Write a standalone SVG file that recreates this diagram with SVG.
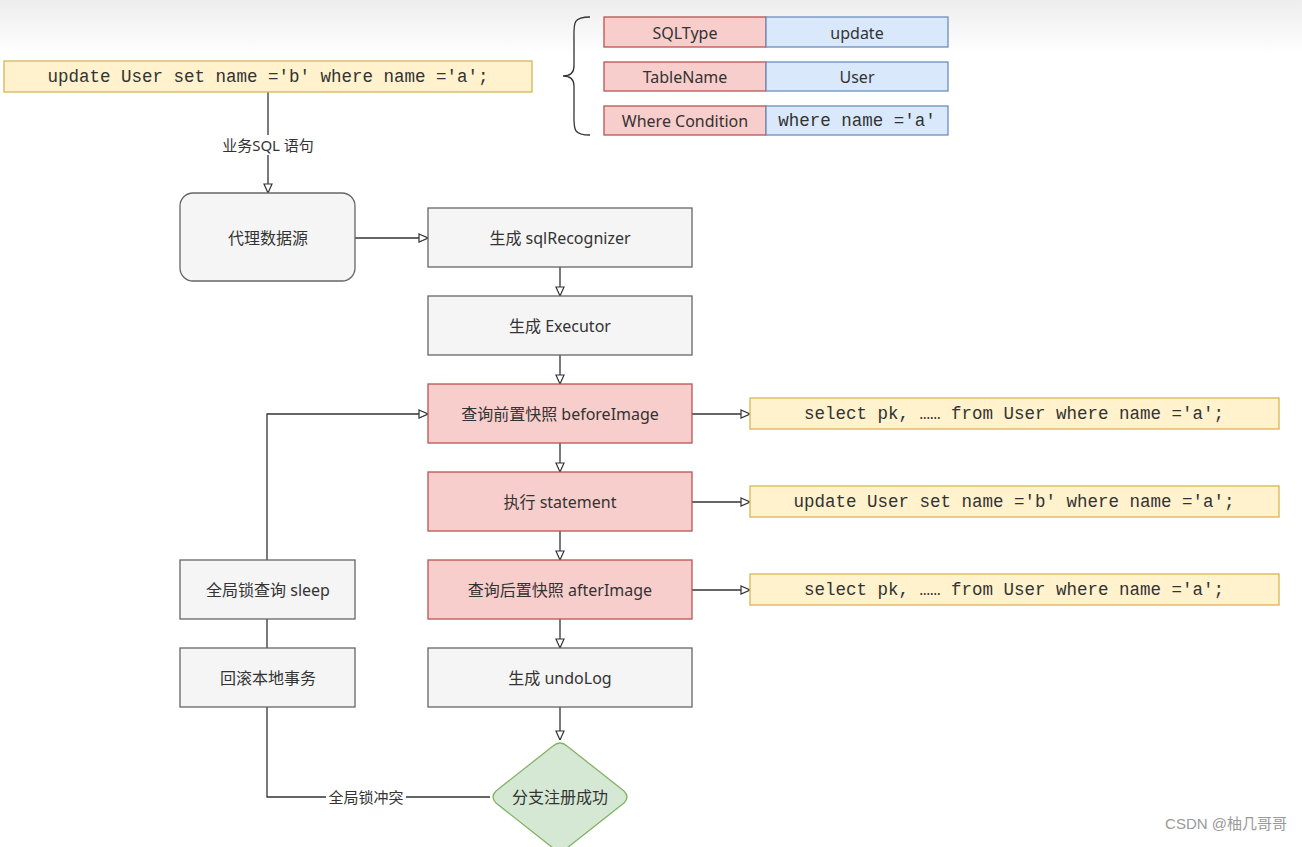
<svg xmlns="http://www.w3.org/2000/svg" width="1302" height="847" viewBox="0 0 1302 847">
<style>
.t{font-family:"Noto Sans","DejaVu Sans","Noto Sans CJK SC",sans-serif;font-size:16px;fill:#333;text-anchor:middle;dominant-baseline:central}
.m{font-family:"Liberation Mono","DejaVu Sans Mono","Noto Sans CJK SC",monospace;font-size:17.5px;fill:#333;text-anchor:middle;dominant-baseline:central}
.gray{fill:#f5f5f5;stroke:#666;stroke-width:1.3}
.red{fill:#f8cecc;stroke:#b85450;stroke-width:1.3}
.blue{fill:#dae8fc;stroke:#6c8ebf;stroke-width:1.3}
.yel{fill:#fff2cc;stroke:#d6b656;stroke-width:1.3}
.grn{fill:#d5e8d4;stroke:#82b366;stroke-width:1.3}
.c{fill:none;stroke:#333;stroke-width:1.3}
.lbl{font-family:"Noto Sans","DejaVu Sans","Noto Sans CJK SC",sans-serif;font-size:15px;fill:#333;text-anchor:middle;dominant-baseline:central}
</style>
<defs>
<linearGradient id="bg" x1="0" y1="0" x2="0" y2="1">
<stop offset="0" stop-color="#ededed"/>
<stop offset="1" stop-color="#ffffff"/>
</linearGradient>
<marker id="a" viewBox="0 0 10 10" refX="10" refY="5" markerWidth="10" markerHeight="10" markerUnits="userSpaceOnUse" orient="auto">
<path d="M1,1 L10,5 L1,9 Z" fill="#fff" stroke="#333" stroke-width="1.2"/>
</marker>
</defs>
<rect x="0" y="0" width="1302" height="847" fill="#fff"/>
<rect x="0" y="0" width="1302" height="55" fill="url(#bg)"/>

<g id="connectors">
<path class="c" d="M268,92 V193" marker-end="url(#a)"/>
<path class="c" d="M355,238 H428" marker-end="url(#a)"/>
<path class="c" d="M560,267 V296" marker-end="url(#a)"/>
<path class="c" d="M560,355 V384" marker-end="url(#a)"/>
<path class="c" d="M560,443 V472" marker-end="url(#a)"/>
<path class="c" d="M560,531 V560" marker-end="url(#a)"/>
<path class="c" d="M560,619 V648" marker-end="url(#a)"/>
<path class="c" d="M560,707 V740" marker-end="url(#a)"/>
<path class="c" d="M692,414 H750" marker-end="url(#a)"/>
<path class="c" d="M692,502 H750" marker-end="url(#a)"/>
<path class="c" d="M692,590 H750" marker-end="url(#a)"/>
<path class="c" d="M490,797 H267 V707"/>
<path class="c" d="M267,648 V619"/>
<path class="c" d="M267,560 V414 H428" marker-end="url(#a)"/>
<rect x="214" y="135" width="108" height="20" fill="#fff"/>
<text class="lbl" x="268" y="145">业务SQL 语句</text>
<rect x="326" y="787" width="80" height="20" fill="#fff"/>
<text class="lbl" x="366" y="797">全局锁冲突</text>
</g>

<g id="sql-top">
<rect class="yel" x="4" y="61" width="528" height="31"/>
<text class="m" x="268" y="77">update User set name ='b' where name ='a';</text>
</g>

<g id="brace">
<path class="c" stroke="#555" d="M590,17 C572,17 574,24 574,40 L574,66 C574,73 570,76 563,76 C570,76 574,79 574,86 L574,112 C574,128 572,135 590,135"/>
</g>

<g id="row-sqltype">
<rect class="red" x="604" y="17" width="162" height="30"/>
<rect class="blue" x="766" y="17" width="182" height="30"/>
<text class="t" x="685" y="33">SQLType</text>
<text class="t" x="857" y="33">update</text>
</g>
<g id="row-tablename">
<rect class="red" x="604" y="62" width="162" height="29"/>
<rect class="blue" x="766" y="62" width="182" height="29"/>
<text class="t" x="685" y="77">TableName</text>
<text class="t" x="857" y="77">User</text>
</g>
<g id="row-where">
<rect class="red" x="604" y="106" width="162" height="29"/>
<rect class="blue" x="766" y="106" width="182" height="29"/>
<text class="t" x="685" y="121">Where Condition</text>
<text class="m" x="857" y="121">where name ='a'</text>
</g>

<g id="proxy">
<rect class="gray" x="180" y="193" width="175" height="88" rx="13"/>
<text class="t" x="268" y="238">代理数据源</text>
</g>
<g id="recognizer">
<rect class="gray" x="428" y="208" width="264" height="59"/>
<text class="t" x="560" y="238">生成 sqlRecognizer</text>
</g>
<g id="executor">
<rect class="gray" x="428" y="296" width="264" height="59"/>
<text class="t" x="560" y="326">生成 Executor</text>
</g>
<g id="before">
<rect class="red" x="428" y="384" width="264" height="59"/>
<text class="t" x="560" y="414">查询前置快照 beforeImage</text>
</g>
<g id="statement">
<rect class="red" x="428" y="472" width="264" height="59"/>
<text class="t" x="560" y="502">执行 statement</text>
</g>
<g id="after">
<rect class="red" x="428" y="560" width="264" height="59"/>
<text class="t" x="560" y="590">查询后置快照 afterImage</text>
</g>
<g id="undolog">
<rect class="gray" x="428" y="648" width="264" height="59"/>
<text class="t" x="560" y="678">生成 undoLog</text>
</g>
<g id="branch">
<path class="grn" d="M553,746 Q560,740 567,746 L624,791 Q630,797 624,803 L567,848 Q560,854 553,848 L496,803 Q490,797 496,791 Z"/>
<text class="t" x="560" y="797">分支注册成功</text>
</g>

<g id="sql-before">
<rect class="yel" x="750" y="398" width="529" height="31"/>
<text class="m" x="1014" y="414">select pk, …… from User where name ='a';</text>
</g>
<g id="sql-exec">
<rect class="yel" x="750" y="486" width="529" height="31"/>
<text class="m" x="1014" y="502">update User set name ='b' where name ='a';</text>
</g>
<g id="sql-after">
<rect class="yel" x="750" y="574" width="529" height="31"/>
<text class="m" x="1014" y="590">select pk, …… from User where name ='a';</text>
</g>

<g id="sleep">
<rect class="gray" x="180" y="560" width="175" height="59"/>
<text class="t" x="268" y="590">全局锁查询 sleep</text>
</g>
<g id="rollback">
<rect class="gray" x="180" y="648" width="175" height="59"/>
<text class="t" x="268" y="678">回滚本地事务</text>
</g>

<text x="1287" y="829" font-family="'Liberation Sans','Noto Sans CJK SC',sans-serif" font-size="15" fill="#999" text-anchor="end">CSDN @柚几哥哥</text>
</svg>
